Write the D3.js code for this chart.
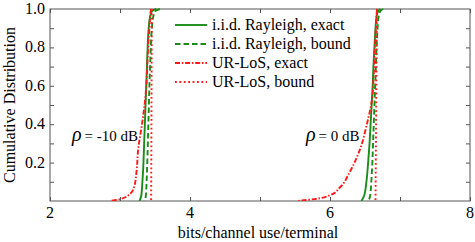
<!DOCTYPE html>
<html>
<head>
<meta charset="utf-8">
<script src="https://cdn.jsdelivr.net/npm/d3@7"></script>
<style>
  body { margin: 0; background: #fff; }
  svg { font-family: "Liberation Serif", "Times New Roman", serif; }
</style>
</head>
<body>
<svg id="cdf" width="475" height="242"></svg>
<script>
// CDF levels shared by the i.i.d. Rayleigh curves
var pIid = [0, 0.03, 0.1, 0.2, 0.3, 0.4, 0.5, 0.6, 0.7, 0.8, 0.9, 0.96, 0.99, 1];
var iidExactM10 = [3.28, 3.305, 3.32, 3.335, 3.345, 3.355, 3.365, 3.375, 3.385, 3.395, 3.41, 3.43, 3.46, 3.52];
var iidBoundM10 = [3.35, 3.37, 3.38, 3.39, 3.398, 3.405, 3.413, 3.42, 3.43, 3.44, 3.455, 3.475, 3.51, 3.57];
var iidExact0 = [6.45, 6.49, 6.52, 6.545, 6.565, 6.58, 6.595, 6.61, 6.62, 6.635, 6.65, 6.665, 6.69, 6.72];
var iidBound0 = [6.55, 6.575, 6.59, 6.605, 6.615, 6.625, 6.635, 6.645, 6.655, 6.665, 6.68, 6.695, 6.72, 6.76];

// UR-LoS curves
var pUr = [0, 0.01, 0.03, 0.07, 0.15, 0.27, 0.39, 0.53, 0.66, 0.79, 0.9, 0.99, 1];
var urExactM10 = [2.86, 3.0, 3.12, 3.2, 3.235, 3.26, 3.31, 3.36, 3.385, 3.40, 3.42, 3.44, 3.445];
var urExact0 = [5.52, 5.78, 6.0, 6.14, 6.28, 6.43, 6.52, 6.60, 6.625, 6.64, 6.655, 6.67, 6.675];
var pUrBound = [0, 0.5, 1];
var urBoundM10 = [3.445, 3.45, 3.455];
var urBound0 = [6.65, 6.66, 6.67];

var xTicks = [2, 3, 4, 5, 6, 7, 8],
    xLabels = [2, 4, 6, 8],
    yTicks = [0.1, 0.2, 0.3, 0.4, 0.5, 0.6, 0.7, 0.8, 0.9],
    yLabels = [0.2, 0.4, 0.6, 0.8, 1.0];

var legendNames = ["i.i.d. Rayleigh, exact", "i.i.d. Rayleigh, bound", "UR-LoS, exact", "UR-LoS, bound"];

var green = "#1a8c1a", red = "#ff1a1a";
var styles = [
  { color: green, dash: null },
  { color: green, dash: "5.5,3" },
  { color: red, dash: "5,1.8,1.5,1.8" },
  { color: red, dash: "1.8,2.6" }
];

var svg = d3.select("#cdf");
var plotL = 50, plotR = 470, plotT = 9, plotB = 201;

var x = d3.scaleLinear().domain([2, 8]).range([plotL, plotR]);
var y = d3.scaleLinear().domain([0, 1]).range([plotB, plotT]);

svg.append("clipPath").attr("id", "clip")
   .append("rect")
   .attr("x", plotL).attr("y", plotT - 1)
   .attr("width", plotR - plotL).attr("height", plotB - plotT + 1);

var frame = "#555";

function tickStyle(g) {
  g.select(".domain").remove();
  g.selectAll("line").attr("stroke", frame);
}

// ticks inside the box
svg.append("g").attr("transform", "translate(0," + plotB + ")")
   .call(d3.axisBottom(x).tickValues(xTicks).tickSize(-4).tickFormat(""))
   .call(tickStyle);
svg.append("g").attr("transform", "translate(0," + plotT + ")")
   .call(d3.axisTop(x).tickValues(xTicks).tickSize(-4).tickFormat(""))
   .call(tickStyle);
svg.append("g").attr("transform", "translate(" + plotL + ",0)")
   .call(d3.axisLeft(y).tickValues(yTicks).tickSize(-4).tickFormat(""))
   .call(tickStyle);
svg.append("g").attr("transform", "translate(" + plotR + ",0)")
   .call(d3.axisRight(y).tickValues(yTicks).tickSize(-4).tickFormat(""))
   .call(tickStyle);

svg.append("rect")
   .attr("x", plotL).attr("y", plotT)
   .attr("width", plotR - plotL).attr("height", plotB - plotT)
   .attr("fill", "none").attr("stroke", frame).attr("stroke-width", 1);

// tick labels
svg.selectAll(".xl").data(xLabels).enter().append("text")
   .attr("x", function(d) { return x(d); })
   .attr("y", 218)
   .attr("text-anchor", "middle")
   .attr("font-size", "16px")
   .text(function(d) { return d; });

svg.selectAll(".yl").data(yLabels).enter().append("text")
   .attr("x", 45)
   .attr("y", function(d) { return y(d) + 5; })
   .attr("text-anchor", "end")
   .attr("font-size", "16px")
   .text(function(d) { return d.toFixed(1); });

svg.append("text")
   .attr("x", 258).attr("y", 238)
   .attr("text-anchor", "middle")
   .attr("font-size", "16px")
   .text("bits/channel use/terminal");

svg.append("text")
   .attr("transform", "translate(15," + ((plotT + plotB) / 2) + ") rotate(-90)")
   .attr("text-anchor", "middle")
   .attr("font-size", "16px")
   .text("Cumulative Distribution");

// curves
var line = d3.line()
   .x(function(d) { return x(d[0]); })
   .y(function(d) { return y(d[1]); })
   .curve(d3.curveMonotoneY);

function pts(xs, ps) {
  return xs.map(function(v, i) { return [v, ps[i]]; }).reverse();
}

var curves = [
  { d: pts(iidExactM10, pIid), s: 0 },
  { d: pts(iidExact0, pIid), s: 0 },
  { d: pts(iidBoundM10, pIid), s: 1 },
  { d: pts(iidBound0, pIid), s: 1 },
  { d: pts(urExactM10, pUr), s: 2 },
  { d: pts(urExact0, pUr), s: 2 },
  { d: pts(urBoundM10, pUrBound), s: 3 },
  { d: pts(urBound0, pUrBound), s: 3 }
];

svg.append("g").attr("clip-path", "url(#clip)")
   .selectAll("path").data(curves).enter().append("path")
   .attr("d", function(c) { return line(c.d); })
   .attr("fill", "none")
   .attr("stroke", function(c) { return styles[c.s].color; })
   .attr("stroke-width", 1.9)
   .attr("stroke-dasharray", function(c) { return styles[c.s].dash; });

// legend
var leg = svg.append("g");
legendNames.forEach(function(name, i) {
  var ly = 25 + i * 19;
  leg.append("line")
     .attr("x1", 175).attr("x2", 207)
     .attr("y1", ly).attr("y2", ly)
     .attr("stroke", styles[i].color)
     .attr("stroke-width", 1.9)
     .attr("stroke-dasharray", styles[i].dash);
  leg.append("text")
     .attr("x", 212).attr("y", ly + 5)
     .attr("font-size", "16px")
     .text(name);
});

// annotations
function rhoLabel(tx, rest) {
  var t = svg.append("text").attr("x", tx).attr("y", 141).attr("font-size", "15px");
  t.append("tspan").attr("font-style", "italic").attr("font-size", "20px").text("ρ");
  t.append("tspan").text(rest);
}
rhoLabel(72, "\u2009= -10 dB");
rhoLabel(306, "\u2009= 0 dB");
</script>
</body>
</html>
